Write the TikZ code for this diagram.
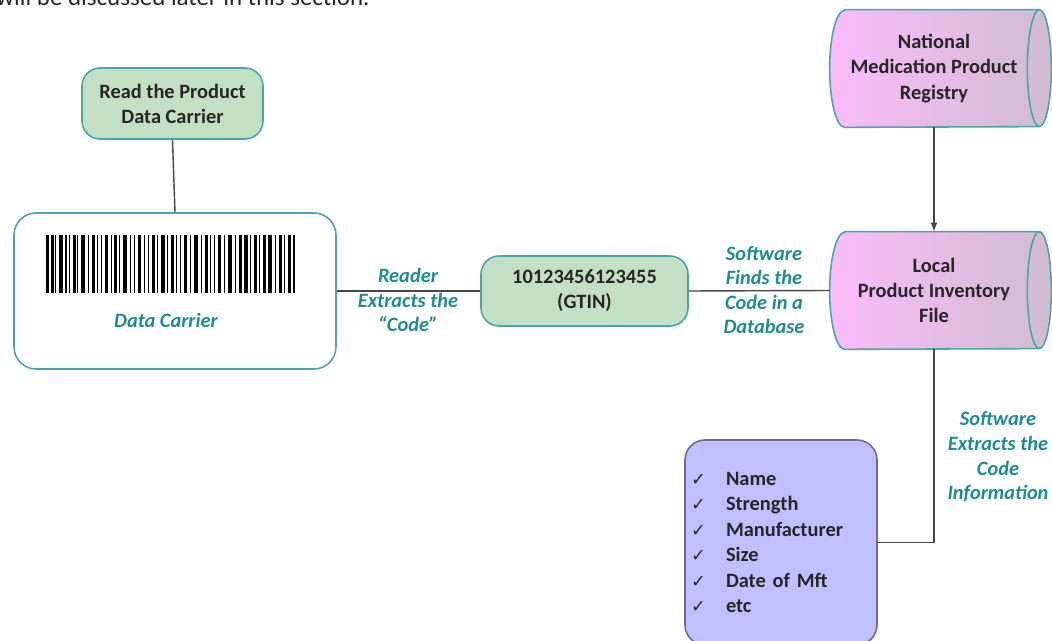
\documentclass[tikz,border=0pt]{standalone}
\usepackage{fontspec}
\setmainfont{Carlito}
\newfontfamily\symfont{DejaVu Sans}
\usetikzlibrary{backgrounds}

\definecolor{tealline}{RGB}{75,165,168}
\definecolor{tealtext}{RGB}{30,140,140}
\definecolor{boxgreen}{RGB}{196,224,196}
\definecolor{pinkleft}{RGB}{250,188,250}
\definecolor{pinkright}{RGB}{208,188,208}
\definecolor{lavender}{RGB}{192,192,255}
\definecolor{listedge}{RGB}{110,110,130}
\definecolor{wireg}{RGB}{70,70,70}

\newcommand{\diagfont}{\fontsize{11.6}{14.3}\selectfont\bfseries}
\newcommand{\chk}{\makebox[0.7cm][l]{\normalfont\symfont\fontsize{10}{10}\selectfont ✓}}

\tikzset{
  greenbox/.style={draw=tealline, fill=boxgreen, line width=0.9pt, rounded corners=0.36cm,
    font=\diagfont, text=black!85, align=center},
  store/.style={minimum width=3.56cm, minimum height=2.34cm, inner sep=0pt,
    font=\diagfont, text=black!85, align=center},
  lbl/.style={font=\fontsize{11.6}{14}\selectfont\bfseries\itshape, text=tealtext, align=center},
  wire/.style={draw=wireg, line width=0.8pt}
}

\begin{document}
\begin{tikzpicture}[x=0.02cm,y=-0.02cm]
\useasboundingbox (0,0) rectangle (1052,641);

% last line of the text above, cut off
\node[anchor=base west, inner sep=0pt, font=\fontsize{14.2}{17}\selectfont, text=black!85] (intro) at (-4,5.5) {will be discussed later in this section.};

% reading step
\node[greenbox, minimum width=3.62cm, minimum height=1.42cm] (read) at (172.5,103.5) {Read the Product\\Data Carrier};

% data carrier with barcode
\node[draw=tealline, line width=0.9pt, rounded corners=0.44cm, minimum width=6.44cm, minimum height=3.12cm] (carrier) at (175,291) {};
\foreach \bx/\bw in {0/2.5,5/2.5,9/1.2,13/4,19/2,23/1.2,27/2.5,31/1.2,35/4,42/1.2,46/2.5,51/1.2,55/1.2,59/2.5,65/1.2,68/2.5,73/1.2,77/4,84/1.2,88/1.2,92/2.5,98/1.2,102/1.2,106/2.5,111/1.2,115/4,121/1.2,125/2.5,130/1.2,134/1.2,138/2.5,144/1.2,148/4,155/1.2,159/2.5,164/1.2,168/1.2,172/2.5,178/1.2,182/4,189/1.2,193/2.5,198/4,204/1.2,208/2.5,213/1.2,217/2.5,222/4,229/1.2,233/2.5,238/1.2,242/2.5,247/2}
  \fill[black] (46+\bx,235) rectangle ++(\bw,58);
\node[lbl] (carrierlbl) at (166,320) {Data Carrier};

% code
\node[greenbox, minimum width=4.14cm, minimum height=1.4cm] (gtin) at (584.5,291) {10123456123455\\(GTIN)};

% databases (drawn as lying cylinders)
\node[store] (registry) at (934,68.5) {National\\Medication Product\\Registry};
\node[store] (local) at (934,290.5) {Local\\Product Inventory\\File};
\begin{scope}[on background layer]
\foreach \n in {registry,local} {
  \shade[left color=pinkleft, right color=pinkright] (\n.north west) -- ([xshift=0.32cm]\n.north east)
    arc (90:-90:0.24cm and 1.17cm) -- (\n.south west) arc (270:90:0.3cm and 1.17cm) -- cycle;
  \draw[tealline, line width=0.9pt] (\n.north west) -- ([xshift=0.32cm]\n.north east)
    arc (90:-90:0.24cm and 1.17cm) -- (\n.south west) arc (270:90:0.3cm and 1.17cm) -- cycle;
  \draw[tealline, line width=0.9pt] ([xshift=0.32cm]\n.north east) arc (90:270:0.24cm and 1.17cm);
}
\end{scope}

% extracted information
\node[draw=listedge, fill=lavender, line width=0.9pt, rounded corners=0.4cm, minimum width=3.84cm, minimum height=4.1cm,
  text width=3.6cm, inner sep=0.12cm, align=left, font=\fontsize{11.6}{14.5}\selectfont\bfseries, text=black!85] (info) at (781,542.5)
  {\chk Name\\\chk Strength\\\chk Manufacturer\\\chk Size\\\chk Date of Mft\\\chk etc};

% connectors
\draw[wire] (read.south) -- (carrier.north);
\draw[wire] (carrier.east) -- (gtin.west);
\draw[wire] (gtin.east) -- ([xshift=-0.3cm]local.west);
\draw[wire,-latex] (registry.south) -- (local.north);
\draw[wire] (local.south) |- (info.east);

% connector labels
\node[lbl] (readlbl) at (408,300) {Reader\\Extracts the\\“Code”};
\node[lbl] (findlbl) at (764,290) {Software\\Finds the\\Code in a\\Database};
\node[lbl] (extractlbl) at (998,457) {Software\\Extracts the\\Code\\Information};
\end{tikzpicture}
\end{document}
